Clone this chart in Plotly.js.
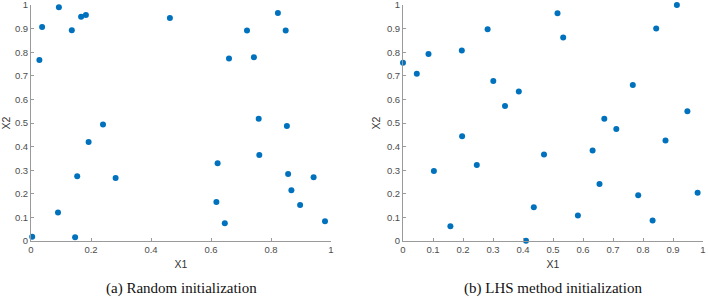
<!DOCTYPE html>
<html>
<head>
<meta charset="utf-8">
<script src="https://cdn.plot.ly/plotly-3.0.1.min.js"></script>
<style>html,body{margin:0;padding:0;background:#fff;}#chart{width:708px;height:298px;}</style>
</head>
<body>
<div id="chart"></div>
<script>
// (a) Random initialization
const randX1 = [0.028, 0.037, 0.093, 0.136, 0.167, 0.183, 0.463, 0.660, 0.720, 0.743, 0.823, 0.849, 0.759, 0.853, 0.240, 0.192,
                0.761, 0.004, 0.090, 0.154, 0.147, 0.282, 0.622, 0.618, 0.646, 0.857, 0.868, 0.942, 0.897, 0.980];
const randX2 = [0.767, 0.907, 0.990, 0.893, 0.950, 0.958, 0.945, 0.773, 0.892, 0.779, 0.966, 0.892, 0.518, 0.487, 0.494, 0.419,
                0.364, 0.018, 0.121, 0.274, 0.016, 0.267, 0.329, 0.165, 0.075, 0.284, 0.215, 0.270, 0.153, 0.084];
// (b) LHS method initialization
const lhsX1 = [0.000, 0.046, 0.085, 0.196, 0.197, 0.282, 0.301, 0.340, 0.386, 0.515, 0.534, 0.671, 0.711, 0.766, 0.844, 0.913, 0.948, 0.875,
               0.632, 0.103, 0.158, 0.246, 0.410, 0.436, 0.470, 0.583, 0.655, 0.784, 0.832, 0.982];
const lhsX2 = [0.755, 0.709, 0.792, 0.807, 0.444, 0.897, 0.678, 0.572, 0.633, 0.965, 0.862, 0.518, 0.475, 0.661, 0.900, 1.000, 0.550, 0.426,
               0.384, 0.297, 0.063, 0.322, 0.001, 0.143, 0.366, 0.108, 0.242, 0.194, 0.087, 0.204];
const captions = ["(a) Random initialization", "(b) LHS method initialization"];
const xTicksA = [0, 0.2, 0.4, 0.6, 0.8, 1];
const xTicksB = [0, 0.1, 0.2, 0.3, 0.4, 0.5, 0.6, 0.7, 0.8, 0.9, 1];
const yTicks = [0, 0.1, 0.2, 0.3, 0.4, 0.5, 0.6, 0.7, 0.8, 0.9, 1];

const dotColor = '#0072BD';
const marker = {color: dotColor, size: 6};
const traces = [
  {x: randX1, y: randX2, type: 'scatter', mode: 'markers', marker: marker, xaxis: 'x', yaxis: 'y', cliponaxis: false, hoverinfo: 'none'},
  {x: lhsX1, y: lhsX2, type: 'scatter', mode: 'markers', marker: marker, xaxis: 'x2', yaxis: 'y2', cliponaxis: false, hoverinfo: 'none'}
];
const tickFont = {family: 'Liberation Sans, Arial, sans-serif', size: 9.5, color: '#4d4d4d'};
const titleFont = {family: 'Liberation Sans, Arial, sans-serif', size: 10.5, color: '#333'};
function ax(extra) {
  return Object.assign({
    range: [0, 1], showgrid: false, zeroline: false, showline: true, linecolor: '#9a9a9a', linewidth: 1,
    ticks: 'inside', ticklen: 3, tickcolor: '#9a9a9a', tickfont: tickFont, tickmode: 'array', fixedrange: true,
    ticklabeloverflow: 'allow'
  }, extra);
}
const capFont = {family: 'Liberation Serif, Times New Roman, serif', size: 15, color: '#111'};
const layout = {
  width: 708, height: 298,
  margin: {l: 31, r: 5, t: 5, b: 57},
  paper_bgcolor: '#fff', plot_bgcolor: '#fff',
  showlegend: false,
  xaxis: ax({domain: [0, 300/672], anchor: 'y', tickvals: xTicksA, ticktext: xTicksA.map(String),
             title: {text: 'X1', font: titleFont, standoff: 6}}),
  yaxis: ax({domain: [0, 1], anchor: 'x', tickvals: yTicks, ticktext: yTicks.map(String),
             title: {text: 'X2', font: titleFont, standoff: 4}}),
  xaxis2: ax({domain: [372/672, 1], anchor: 'y2', tickvals: xTicksB, ticktext: xTicksB.map(String),
              title: {text: 'X1', font: titleFont, standoff: 6}}),
  yaxis2: ax({domain: [0, 1], anchor: 'x2', tickvals: yTicks, ticktext: yTicks.map(String),
              title: {text: 'X2', font: titleFont, standoff: 4}}),
  annotations: [
    {text: captions[0], xref: 'paper', yref: 'paper', x: 150/672, y: -47/236, yanchor: 'middle', xanchor: 'center',
     showarrow: false, font: capFont},
    {text: captions[1], xref: 'paper', yref: 'paper', x: 522/672, y: -47/236, yanchor: 'middle', xanchor: 'center',
     showarrow: false, font: capFont}
  ]
};
Plotly.newPlot('chart', traces, layout, {displayModeBar: false, staticPlot: true});
</script>
</body>
</html>
